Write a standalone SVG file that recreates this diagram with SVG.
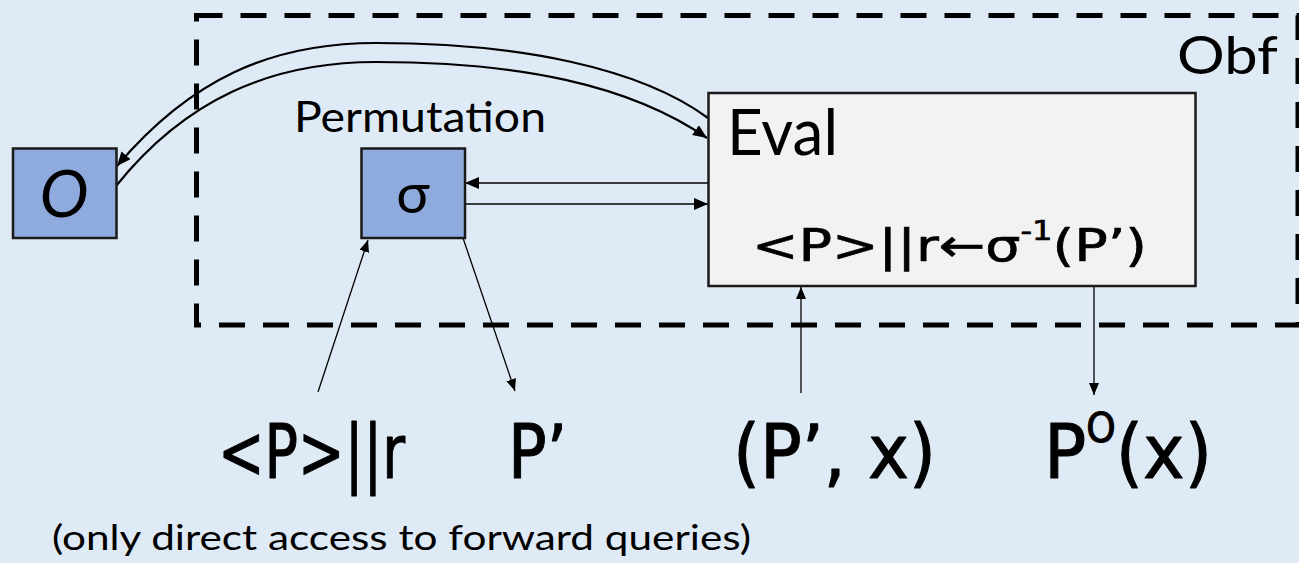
<svg xmlns="http://www.w3.org/2000/svg" width="1299" height="563" viewBox="0 0 1299 563">
  <style>
    .lbl { font-family: Lato, "Open Sans", "Liberation Sans", sans-serif; fill: #000; }
    .math { font-family: "DejaVu Sans", "Liberation Sans", sans-serif; fill: #000; stroke: #000; stroke-linejoin: round; stroke-linecap: round; }
    .math-sm { stroke-width: 0.7; }
    .math-lg { stroke-width: 1.1; }
    .box-blue { fill: #8faadc; stroke: #1a1a1a; stroke-width: 2.5; }
    .box-grey { fill: #f2f2f2; stroke: #1a1a1a; stroke-width: 2.5; }
    .frame { fill: none; stroke: #000; stroke-width: 5; stroke-dasharray: 26 18; }
    .curve { fill: none; stroke: #000; stroke-width: 2.2; }
    .link { fill: none; stroke: #000; stroke-width: 1.6; }
    .thin { fill: none; stroke: #000; stroke-width: 1.3; }
  </style>
  <defs>
    <marker id="head" viewBox="0 0 14 12" refX="14" refY="6" markerWidth="14" markerHeight="12" markerUnits="userSpaceOnUse" orient="auto">
      <path d="M0,0 L14,6 L0,12 Z" fill="#000"/>
    </marker>
    <marker id="head-sm" viewBox="0 0 12 10" refX="12" refY="5" markerWidth="12" markerHeight="10" markerUnits="userSpaceOnUse" orient="auto">
      <path d="M0,0 L12,5 L0,10 Z" fill="#000"/>
    </marker>
  </defs>

  <rect width="1299" height="563" fill="#deeaf6"/>

  <!-- obfuscator boundary -->
  <g id="obf">
    <rect class="frame" x="196.5" y="15.5" width="1101.5" height="309.5"/>
    <text class="lbl" x="1177" y="74" font-size="52" textLength="101" lengthAdjust="spacingAndGlyphs">Obf</text>
  </g>

  <!-- connectors -->
  <g id="connectors">
    <path class="curve" d="M708,118 C640,68 520,43 376,43 C270,43 190,80 117,166" marker-end="url(#head)"/>
    <path class="curve" d="M116,186 C185,100 270,62 376,62 C520,62 630,85 707,138" marker-end="url(#head)"/>
    <line class="link" x1="708" y1="183" x2="465" y2="183" marker-end="url(#head)"/>
    <line class="link" x1="465" y1="204" x2="708" y2="204" marker-end="url(#head)"/>
    <line class="thin" x1="318" y1="392" x2="368" y2="240" marker-end="url(#head-sm)"/>
    <line class="thin" x1="463" y1="238" x2="515" y2="391" marker-end="url(#head-sm)"/>
    <line class="thin" x1="801" y1="393" x2="801" y2="287" marker-end="url(#head-sm)"/>
    <line class="thin" x1="1094" y1="287" x2="1094" y2="395" marker-end="url(#head-sm)"/>
  </g>

  <!-- oracle -->
  <g id="oracle">
    <rect class="box-blue" x="13" y="148.5" width="103.5" height="89.5"/>
    <text class="lbl" x="64" y="217" font-size="66" font-style="italic" text-anchor="middle">O</text>
  </g>

  <!-- permutation -->
  <g id="permutation">
    <text class="lbl" x="294" y="132" font-size="42" textLength="252" lengthAdjust="spacingAndGlyphs">Permutation</text>
    <rect class="box-blue" x="361.5" y="148.5" width="103.5" height="89.5"/>
    <text class="lbl" x="413" y="213" font-size="56" text-anchor="middle" font-family="'Open Sans', 'Noto Sans', sans-serif">σ</text>
  </g>

  <!-- evaluator -->
  <g id="eval">
    <rect class="box-grey" x="708.5" y="93" width="487" height="193"/>
    <text class="lbl" x="727" y="155" font-size="63" textLength="111" lengthAdjust="spacingAndGlyphs">Eval</text>
    <text class="math math-sm" x="752" y="261" font-size="45" textLength="395" lengthAdjust="spacingAndGlyphs">&lt;P&gt;||r←σ<tspan font-size="26" dy="-21">-1</tspan><tspan dy="21">(P’)</tspan></text>
  </g>

  <!-- query labels -->
  <g id="labels">
    <text class="math math-lg" x="218" y="478" font-size="75" textLength="187" lengthAdjust="spacingAndGlyphs">&lt;P&gt;||r</text>
    <text class="math math-lg" x="508" y="478" font-size="75" textLength="59" lengthAdjust="spacingAndGlyphs">P’</text>
    <text class="math math-lg" x="733" y="478" font-size="75" textLength="203" lengthAdjust="spacingAndGlyphs">(P’, x)</text>
    <text class="math math-lg" x="1044" y="478" font-size="75" textLength="168" lengthAdjust="spacingAndGlyphs">P<tspan font-size="40" dy="-36">O</tspan><tspan dy="36">(x)</tspan></text>
  </g>

  <g id="note">
    <text class="lbl" x="52" y="550" font-size="34" textLength="699" lengthAdjust="spacingAndGlyphs">(only direct access to forward queries)</text>
  </g>
</svg>
